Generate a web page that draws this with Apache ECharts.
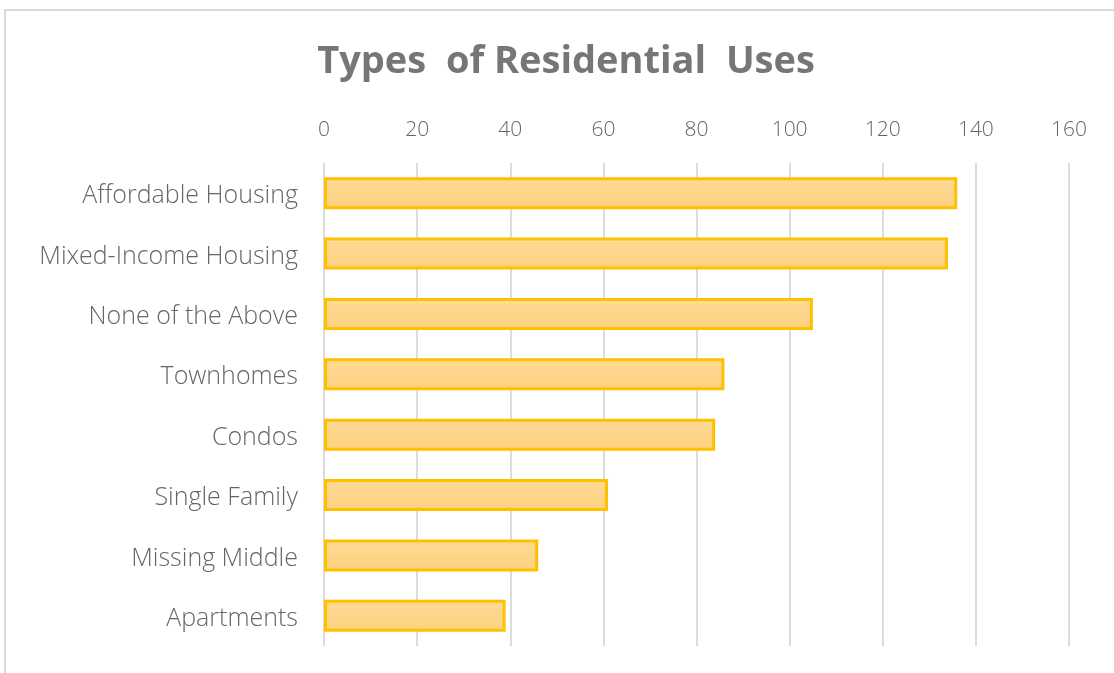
<!DOCTYPE html>
<html><head><meta charset="utf-8">
<script src="https://cdn.jsdelivr.net/npm/echarts@6/dist/echarts.min.js"></script>
<style>
html,body{margin:0;padding:0;background:#fff;}
#frame{position:absolute;left:4px;top:9px;width:1120px;height:680px;border-top:2px solid #d9d9d9;border-left:2px solid #d9d9d9;}
#c{position:absolute;left:0;top:0;width:1114px;height:673px;}
</style></head>
<body>
<div id="frame"></div>
<div id="c"></div>
<script>
const categories = ["Affordable Housing","Mixed-Income Housing","None of the Above","Townhomes","Condos","Single Family","Missing Middle","Apartments"];
const values = [136,134,105,86,84,61,46,39];
const chart = echarts.init(document.getElementById('c'));
chart.setOption({
  animation:false,
  title:{text:'Types  of Residential  Uses',left:561,top:38,textAlign:'center',
    textStyle:{fontFamily:'Open Sans',fontWeight:'bold',fontSize:38,color:'#767676'}},
  grid:{left:324,right:45,top:163,bottom:27},
  xAxis:{type:'value',position:'top',min:0,max:160,interval:20,
    axisLine:{show:false},axisTick:{show:false},
    axisLabel:{fontFamily:'Open Sans',fontSize:21,fontWeight:300,color:'#666',margin:22},
    splitLine:{lineStyle:{color:'#dcdcdc',width:2}}},
  yAxis:{type:'category',inverse:true,data:categories,
    axisLine:{show:false},axisTick:{show:false},
    axisLabel:{fontFamily:'Open Sans',fontSize:25,fontWeight:300,color:'#666',margin:26,lineHeight:30,verticalAlign:'top',padding:[-12,0,0,0]}},
  series:[{type:'bar',data:values,barCategoryGap:'47%',
    itemStyle:{borderColor:'#FFC000',borderWidth:3,
      color:{type:'linear',x:0,y:0,x2:0,y2:1,colorStops:[{offset:0,color:'#FFDB96'},{offset:1,color:'#FDD07E'}]}}}]
});
</script>
</body></html>
